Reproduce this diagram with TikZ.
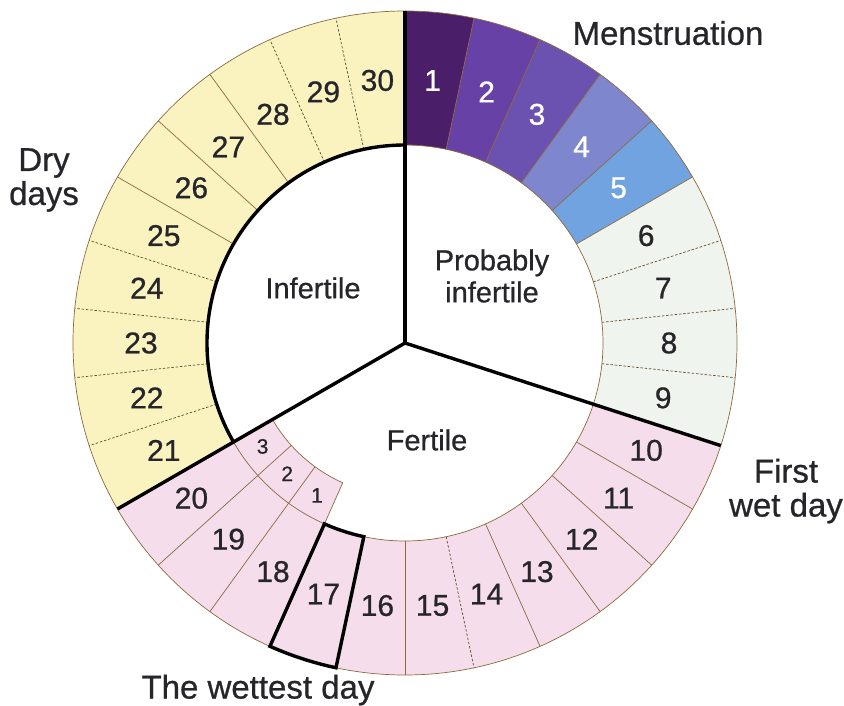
\documentclass[tikz,border=0pt]{standalone}
\usepackage{fontspec}
\setmainfont{Liberation Sans}[FakeBold=0.7]
\usepackage{tikz}
\definecolor{dryc}{RGB}{250,243,192}
\definecolor{wetc}{RGB}{246,221,236}
\definecolor{probc}{RGB}{239,245,238}
\definecolor{edgec}{RGB}{140,105,60}
\definecolor{inkc}{RGB}{38,38,42}
\definecolor{mA}{RGB}{74,30,104}
\definecolor{mB}{RGB}{104,65,166}
\definecolor{mC}{RGB}{108,82,176}
\definecolor{mD}{RGB}{126,134,206}
\definecolor{mE}{RGB}{112,163,224}
\begin{document}
\begin{tikzpicture}[x=1pt,y=1pt,
  seg/.style={draw=edgec,line width=0.7pt},
  dashseg/.style={draw=edgec!70!black,line width=0.7pt,dash pattern=on 2.5pt off 1.8pt},
  bigline/.style={line width=3.4pt,black},
  daylbl/.style={font=\fontsize{30}{32}\selectfont,text=inkc},
  sublbl/.style={font=\fontsize{21}{22}\selectfont,text=inkc},
  zonelbl/.style={font=\fontsize{29}{32}\selectfont,text=inkc,align=center},
  outlbl/.style={font=\fontsize{33}{34}\selectfont,text=inkc,align=center}]
  \def\Ro{332} \def\Ri{198} \def\Rs{153}
  \useasboundingbox (-405,-363) rectangle (439,343);
  \coordinate (c) at (0,0);
  \foreach \c/\p/\q in {mA/1/1,mB/2/2,mC/3/3,mD/4/4,mE/5/5,probc/6/9,wetc/10/20,dryc/21/30}
    \foreach \k in {\p,...,\q}
      \fill[\c] (102-12*\k:\Ri) -- (102-12*\k:\Ro) arc[start angle=102-12*\k,end angle=90-12*\k,radius=\Ro] -- (90-12*\k:\Ri) arc[start angle=90-12*\k,end angle=102-12*\k,radius=\Ri] -- cycle;
  \fill[wetc] (-150:\Rs) -- (-150:\Ri) arc[start angle=-150,end angle=-114,radius=\Ri] -- (-114:\Rs) arc[start angle=-114,end angle=-150,radius=\Rs] -- cycle;
  \foreach \b in {1,...,5,10,11,12,13,15,25,26,27} \draw[seg] (90-12*\b:\Ri) -- (90-12*\b:\Ro);
  \foreach \b in {6,7,8,14,21,22,23,24,28,29} \draw[dashseg] (90-12*\b:\Ri) -- (90-12*\b:\Ro);
  \foreach \b in {17,18,19} \draw[seg] (90-12*\b:\Rs) -- (90-12*\b:\Ro);
  \draw[seg] (c) circle[radius=\Ro];
  \draw[seg] (90:\Ri) arc[start angle=90,end angle=-150,radius=\Ri];
  \draw[seg] (-150:\Rs) arc[start angle=-150,end angle=-114,radius=\Rs];
  \draw[bigline] (90:\Ri) arc[start angle=90,end angle=210,radius=\Ri];
  \foreach \a/\n in {90/top,-18/wet,-150/dry} {\coordinate (\n) at (\a:\Ro); \draw[bigline] (c) -- (\n);}
  \draw[bigline] (-102:\Ri) -- (-102:\Ro) arc[start angle=-102,end angle=-114,radius=\Ro] -- (-114:\Ri) arc[start angle=-114,end angle=-102,radius=\Ri] -- cycle;
  \foreach \k in {1,...,30} {\ifnum\k<6 \def\tc{white}\else\def\tc{inkc}\fi
    \node[daylbl,text=\tc] (d\k) at (96-12*\k:264) {\k};}
  \foreach \k/\a in {3/-144,2/-132,1/-120} \node[sublbl] (s\k) at (\a:176) {\k};
  \node[zonelbl] (infert) at (-92,55) {Infertile};
  \node[zonelbl] (probinf) at (87,67) {Probably\\infertile};
  \node[zonelbl] (fert) at (22,-97) {Fertile};
  \node[outlbl] (mens) at (263,310) {Menstruation};
  \node[outlbl] (drydays) at (-361,163) {Dry\\days};
  \node[outlbl] (firstwet) at (381,-148) {First\\wet day};
  \node[outlbl] (wettest) at (-147,-347) {The wettest day};
\end{tikzpicture}
\end{document}
